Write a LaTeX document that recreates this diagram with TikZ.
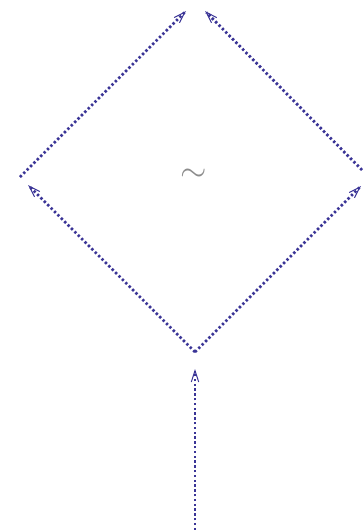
\documentclass[tikz,border=0pt]{standalone}
\usepackage{amsmath}
\usetikzlibrary{arrows.meta, calc}

\definecolor{lineblue}{RGB}{58,52,150}

\begin{document}
\begin{tikzpicture}[
  x=1pt, y=-1pt,
  >={Straight Barb[length=4mm, width=2.6mm, line width=1pt]}
]
\tikzset{
  prop/.style ={->, draw=lineblue, line width=2.8pt,
                dash pattern=on 2.4pt off 2.4pt},
  tildelab/.style ={font=\normalsize, text=black!45, scale=3.4}
}
\useasboundingbox (0,0) rectangle (362,530);

%% ----- end points -----
\coordinate (inS)  at (195,530);
\coordinate (inE)  at (195,369);
\coordinate (bot)  at (195,352);
\coordinate (lftE) at (28,185);
\coordinate (lftS) at (20,177);
\coordinate (rgtE) at (361,186);
\coordinate (rgtS) at (362,170);
\coordinate (topL) at (186,11);
\coordinate (topR) at (205,11);

%% ----- incoming line -----
\draw[prop] (inS) -- (inE);

%% ----- diamond -----
\draw[prop] (bot)  -- (lftE);
\draw[prop] (bot)  -- (rgtE);
\draw[prop] (lftS) -- (topL);
\draw[prop] (rgtS) -- (topR);

%% ----- centre -----
\node[tildelab] (tl) at (194,175) {$\sim$};

\end{tikzpicture}
\end{document}
